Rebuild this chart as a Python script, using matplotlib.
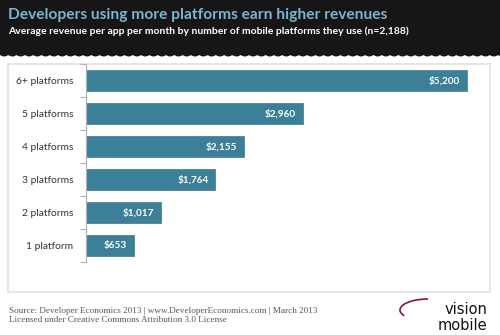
import numpy as np
import matplotlib.pyplot as plt
from matplotlib.patches import Rectangle, Polygon, Arc

categories = ['1 platform', '2 platforms', '3 platforms', '4 platforms', '5 platforms', '6+ platforms']
revenue = [653, 1017, 1764, 2155, 2960, 5200]
value_labels = ['$653', '$1,017', '$1,764', '$2,155', '$2,960', '$5,200']

title = 'Developers using more platforms earn higher revenues'
subtitle = 'Average revenue per app per month by number of mobile platforms they use (n=2,188)'
source = 'Source: Developer Economics 2013 | www.DeveloperEconomics.com | March 2013'
licence = 'Licensed under Creative Commons Attribution 3.0 License'

W, H = 500, 335
bar_color = '#3b7f99'

fig = plt.figure(figsize=(W / 100, H / 100), dpi=100)
fig.patch.set_facecolor('white')


def px(x, y):
    # pixel coords (top-left origin) -> figure fraction
    return x / W, 1 - y / H


# dark header with a scalloped bottom edge
xs = np.linspace(0, W, 400)
edge = 55 + 1.5 * np.abs(np.sin(xs * np.pi / 8.3))
pts = [px(0, 0), px(W, 0)] + [px(x, y) for x, y in zip(xs[::-1], edge[::-1])]
fig.patches.append(Polygon(pts, closed=True, transform=fig.transFigure,
                           facecolor='#161616', edgecolor='none', zorder=-2))
fig.text(*px(8, 15), title, color='#7bb5cf', fontsize=11.2, fontweight='bold',
         family='Lato', va='center', ha='left')
fig.text(*px(8, 31), subtitle, color='white', fontsize=7.5, fontweight='bold',
         family='Lato', va='center', ha='left')

# light frame around the chart
x0, y0 = px(8, 292)
x1, y1 = px(490, 64)
fig.patches.append(Rectangle((x0, y0), x1 - x0, y1 - y0, transform=fig.transFigure,
                             facecolor='white', edgecolor='#e2e2e2', lw=1.2, zorder=-1))

# axes
l, b = px(86, 262)
r, t = px(480, 64)
ax = fig.add_axes([l, b, r - l, t - b])
ax.set_facecolor('none')
ypos = np.arange(len(categories))
ax.barh(ypos, revenue, height=0.66, color=bar_color, edgecolor='#2e6478', linewidth=0.4)
for y, v, lab in zip(ypos, revenue, value_labels):
    ax.text(v - 90, y, lab, color='white', fontsize=7.2, fontweight='bold',
            family='Lato', ha='right', va='center')

ax.set_xlim(0, 5200 * 394 / 381)
ax.set_ylim(-0.5, len(categories) - 0.5)
ax.set_yticks(ypos)
ax.set_yticklabels(categories, family='Lato', fontsize=7.4, color='#333333')
ax.set_yticks(np.arange(-0.5, len(categories), 1.0), minor=True)
ax.tick_params(axis='y', which='major', length=0, pad=9)
ax.tick_params(axis='y', which='minor', length=4, color='#b0b0b0', width=0.8)
ax.set_xticks([])
for s in ['top', 'right', 'bottom']:
    ax.spines[s].set_visible(False)
ax.spines['left'].set_color('#b0b0b0')
ax.spines['left'].set_linewidth(0.8)

# footer
fig.text(*px(9, 311), source, color='#555555', fontsize=6.6,
         family='Liberation Serif', va='center', ha='left')
fig.text(*px(9, 320.5), licence, color='#555555', fontsize=6.6,
         family='Liberation Serif', va='center', ha='left')

# logo
fig.text(*px(487, 309), 'vision', color='#111111', fontsize=10.5,
         family='DejaVu Sans', va='center', ha='right')
fig.text(*px(487, 325), 'mobile', color='#111111', fontsize=10.5,
         family='DejaVu Sans', va='center', ha='right')
cx, cy = px(428, 310)
fig.patches.append(Arc((cx, cy), 56 / W, 22 / H, theta1=90, theta2=200,
                       transform=fig.transFigure, color='#8a1530', lw=1.2))

fig.savefig('out.png', dpi=100)
